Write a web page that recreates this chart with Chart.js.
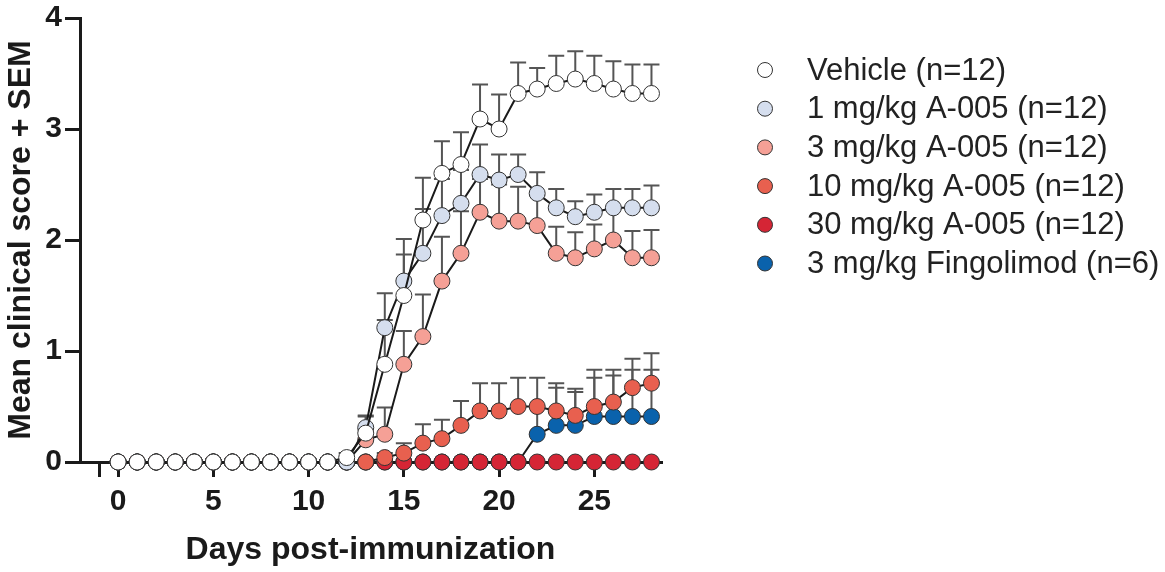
<!DOCTYPE html>
<html>
<head>
<meta charset="utf-8">
<script src="https://cdn.jsdelivr.net/npm/chart.js@4.4.1/dist/chart.umd.min.js"></script>
<style>
    body { margin: 0; background: #fff; }
</style>
</head>
<body>
<canvas id="chart" width="1165" height="572"></canvas>
<script>
// days post-immunization
const days = [0, 1, 2, 3, 4, 5, 6, 7, 8, 9, 10, 11, 12, 13, 14, 15, 16, 17, 18, 19, 20, 21, 22, 23, 24, 25, 26, 27, 28];
const xTicks = [-1, 0, 5, 10, 15, 20, 25];

// mean clinical score per group
const vehicleMean = [0, 0, 0, 0, 0, 0, 0, 0, 0, 0, 0, 0, 0.04, 0.26, 0.88, 1.5, 2.18, 2.6, 2.68, 3.09, 3.0, 3.32, 3.36, 3.41, 3.45, 3.41, 3.36, 3.32, 3.32];
const dose1Mean = [0, 0, 0, 0, 0, 0, 0, 0, 0, 0, 0, 0, 0, 0.31, 1.21, 1.63, 1.88, 2.22, 2.33, 2.59, 2.54, 2.59, 2.42, 2.29, 2.21, 2.25, 2.29, 2.29, 2.29];
const dose3Mean = [0, 0, 0, 0, 0, 0, 0, 0, 0, 0, 0, 0, 0, 0.2, 0.25, 0.88, 1.13, 1.63, 1.88, 2.25, 2.17, 2.17, 2.13, 1.88, 1.84, 1.92, 2.0, 1.84, 1.84];
const dose10Mean = [0, 0, 0, 0, 0, 0, 0, 0, 0, 0, 0, 0, 0, 0, 0.04, 0.08, 0.17, 0.21, 0.33, 0.46, 0.46, 0.5, 0.5, 0.46, 0.42, 0.5, 0.54, 0.67, 0.71];
const dose30Mean = [0, 0, 0, 0, 0, 0, 0, 0, 0, 0, 0, 0, 0, 0, 0, 0, 0, 0, 0, 0, 0, 0, 0, 0, 0, 0, 0, 0, 0];
const fingoMean = [0, 0, 0, 0, 0, 0, 0, 0, 0, 0, 0, 0, 0, 0, 0, 0, 0, 0, 0, 0, 0, 0, 0.25, 0.33, 0.33, 0.41, 0.41, 0.41, 0.41];

// SEM (upper error bar only)
const vehicleSem = [0, 0, 0, 0, 0, 0, 0, 0, 0, 0, 0, 0, 0.04, 0.15, 0.4, 0.37, 0.38, 0.29, 0.29, 0.31, 0.31, 0.28, 0.19, 0.25, 0.25, 0.25, 0.25, 0.26, 0.26];
const dose1Sem = [0, 0, 0, 0, 0, 0, 0, 0, 0, 0, 0, 0, 0, 0.11, 0.31, 0.38, 0.4, 0.33, 0.3, 0.27, 0.23, 0.18, 0.19, 0.17, 0.14, 0.16, 0.17, 0.17, 0.2];
const dose3Sem = [0, 0, 0, 0, 0, 0, 0, 0, 0, 0, 0, 0, 0, 0.1, 0.24, 0.3, 0.38, 0.4, 0.38, 0.3, 0.33, 0.31, 0.27, 0.24, 0.23, 0.22, 0.28, 0.24, 0.25];
const dose10Sem = [0, 0, 0, 0, 0, 0, 0, 0, 0, 0, 0, 0, 0, 0, 0.04, 0.09, 0.17, 0.17, 0.22, 0.25, 0.25, 0.26, 0.26, 0.25, 0.24, 0.33, 0.29, 0.26, 0.27];
const dose30Sem = [0, 0, 0, 0, 0, 0, 0, 0, 0, 0, 0, 0, 0, 0, 0, 0, 0, 0, 0, 0, 0, 0, 0, 0, 0, 0, 0, 0, 0];
const fingoSem = [0, 0, 0, 0, 0, 0, 0, 0, 0, 0, 0, 0, 0, 0, 0, 0, 0, 0, 0, 0, 0, 0, 0.25, 0.34, 0.3, 0.35, 0.37, 0.42, 0.42];

const groupLabels = ["Vehicle (n=12)", "1 mg/kg A-005 (n=12)", "3 mg/kg A-005 (n=12)", "10 mg/kg A-005 (n=12)", "30 mg/kg A-005 (n=12)", "3 mg/kg Fingolimod (n=6)"];
const groupColors = ["#ffffff", "#d5deee", "#f5a096", "#e8604f", "#d52535", "#0a62ac"];
const groupMeans = [vehicleMean, dose1Mean, dose3Mean, dose10Mean, dose30Mean, fingoMean];
const groupSems = [vehicleSem, dose1Sem, dose3Sem, dose10Sem, dose30Sem, fingoSem];

const ink = "#1a1a1a";
Chart.defaults.font.family = "'Liberation Sans', Arial, Helvetica, sans-serif";
Chart.defaults.color = ink;

// error bars go under the lines and markers
const errorBars = {
    id: "errorBars",
    beforeDatasetsDraw(chart) {
        const ctx = chart.ctx;
        const x = chart.scales.x;
        const y = chart.scales.y;
        ctx.save();
        ctx.strokeStyle = "#555";
        ctx.lineWidth = 2;
        chart.data.datasets.forEach(ds => {
            ds.sem.forEach((e, i) => {
                if (!e) return;
                const px = x.getPixelForValue(days[i]);
                const y0 = y.getPixelForValue(ds.means[i]);
                const y1 = y.getPixelForValue(ds.means[i] + e);
                ctx.beginPath();
                ctx.moveTo(px, y0);
                ctx.lineTo(px, y1);
                ctx.moveTo(px - 8, y1);
                ctx.lineTo(px + 8, y1);
                ctx.stroke();
            });
        });
        ctx.restore();
    }
};

// legend on the right, GraphPad style
const sideLegend = {
    id: "sideLegend",
    afterDraw(chart) {
        const ctx = chart.ctx;
        ctx.save();
        ctx.font = "31px 'Liberation Sans', Arial, sans-serif";
        ctx.textBaseline = "middle";
        ctx.textAlign = "left";
        chart.data.datasets.forEach((ds, i) => {
            const cy = 70 + i * 38.7;
            ctx.beginPath();
            ctx.arc(765, cy, 7.5, 0, Math.PI * 2);
            ctx.fillStyle = ds.pointBackgroundColor;
            ctx.fill();
            ctx.lineWidth = 1;
            ctx.strokeStyle = "#333";
            ctx.stroke();
            ctx.fillStyle = "#222";
            ctx.fillText(ds.label, 807, cy + 1);
        });
        ctx.restore();
    }
};

const datasets = groupLabels.map((label, g) => ({
    label: label,
    data: days.map((d, i) => ({ x: d, y: groupMeans[g][i] })),
    means: groupMeans[g],
    sem: groupSems[g],
    borderColor: ink,
    borderWidth: 2,
    tension: 0,
    pointRadius: 8,
    pointHoverRadius: 8,
    pointBorderWidth: 1,
    pointBorderColor: "#333",
    pointBackgroundColor: groupColors[g],
    clip: false
}));

const tickFont = { size: 30, weight: "bold", lineHeight: 1 };
const titleFont = { size: 32, weight: "bold", lineHeight: 1.2 };

new Chart(document.getElementById("chart"), {
    type: "line",
    data: { datasets: datasets },
    options: {
        responsive: false,
        animation: false,
        layout: { padding: { top: 15, right: 504, left: 0, bottom: 0 } },
        plugins: {
            legend: { display: false },
            tooltip: { enabled: false }
        },
        scales: {
            x: {
                type: "linear",
                min: -2,
                max: 28.5,
                afterBuildTicks: s => { s.ticks = xTicks.map(v => ({ value: v })); },
                afterFit: s => { s.height = 110; },
                ticks: {
                    callback: v => (v < 0 ? "" : v),
                    font: tickFont,
                    color: ink,
                    padding: 10,
                    maxRotation: 0,
                    autoSkip: false
                },
                grid: { drawOnChartArea: false, drawTicks: true, tickLength: 15, lineWidth: 3, color: ink },
                border: { display: true, width: 3, color: ink },
                title: { display: true, text: "Days post-immunization", font: titleFont, color: ink, padding: { top: 0, bottom: 3 } }
            },
            y: {
                min: 0,
                max: 4,
                afterFit: s => { s.width = 80; },
                ticks: { stepSize: 1, font: tickFont, color: ink, padding: 3 },
                grid: { drawOnChartArea: false, drawTicks: true, tickLength: 15, lineWidth: 3, color: ink },
                border: { display: true, width: 3, color: ink },
                title: { display: true, text: "Mean clinical score + SEM", font: titleFont, color: ink, padding: { top: 2, bottom: 0 } }
            }
        }
    },
    plugins: [errorBars, sideLegend]
});
</script>
</body>
</html>
